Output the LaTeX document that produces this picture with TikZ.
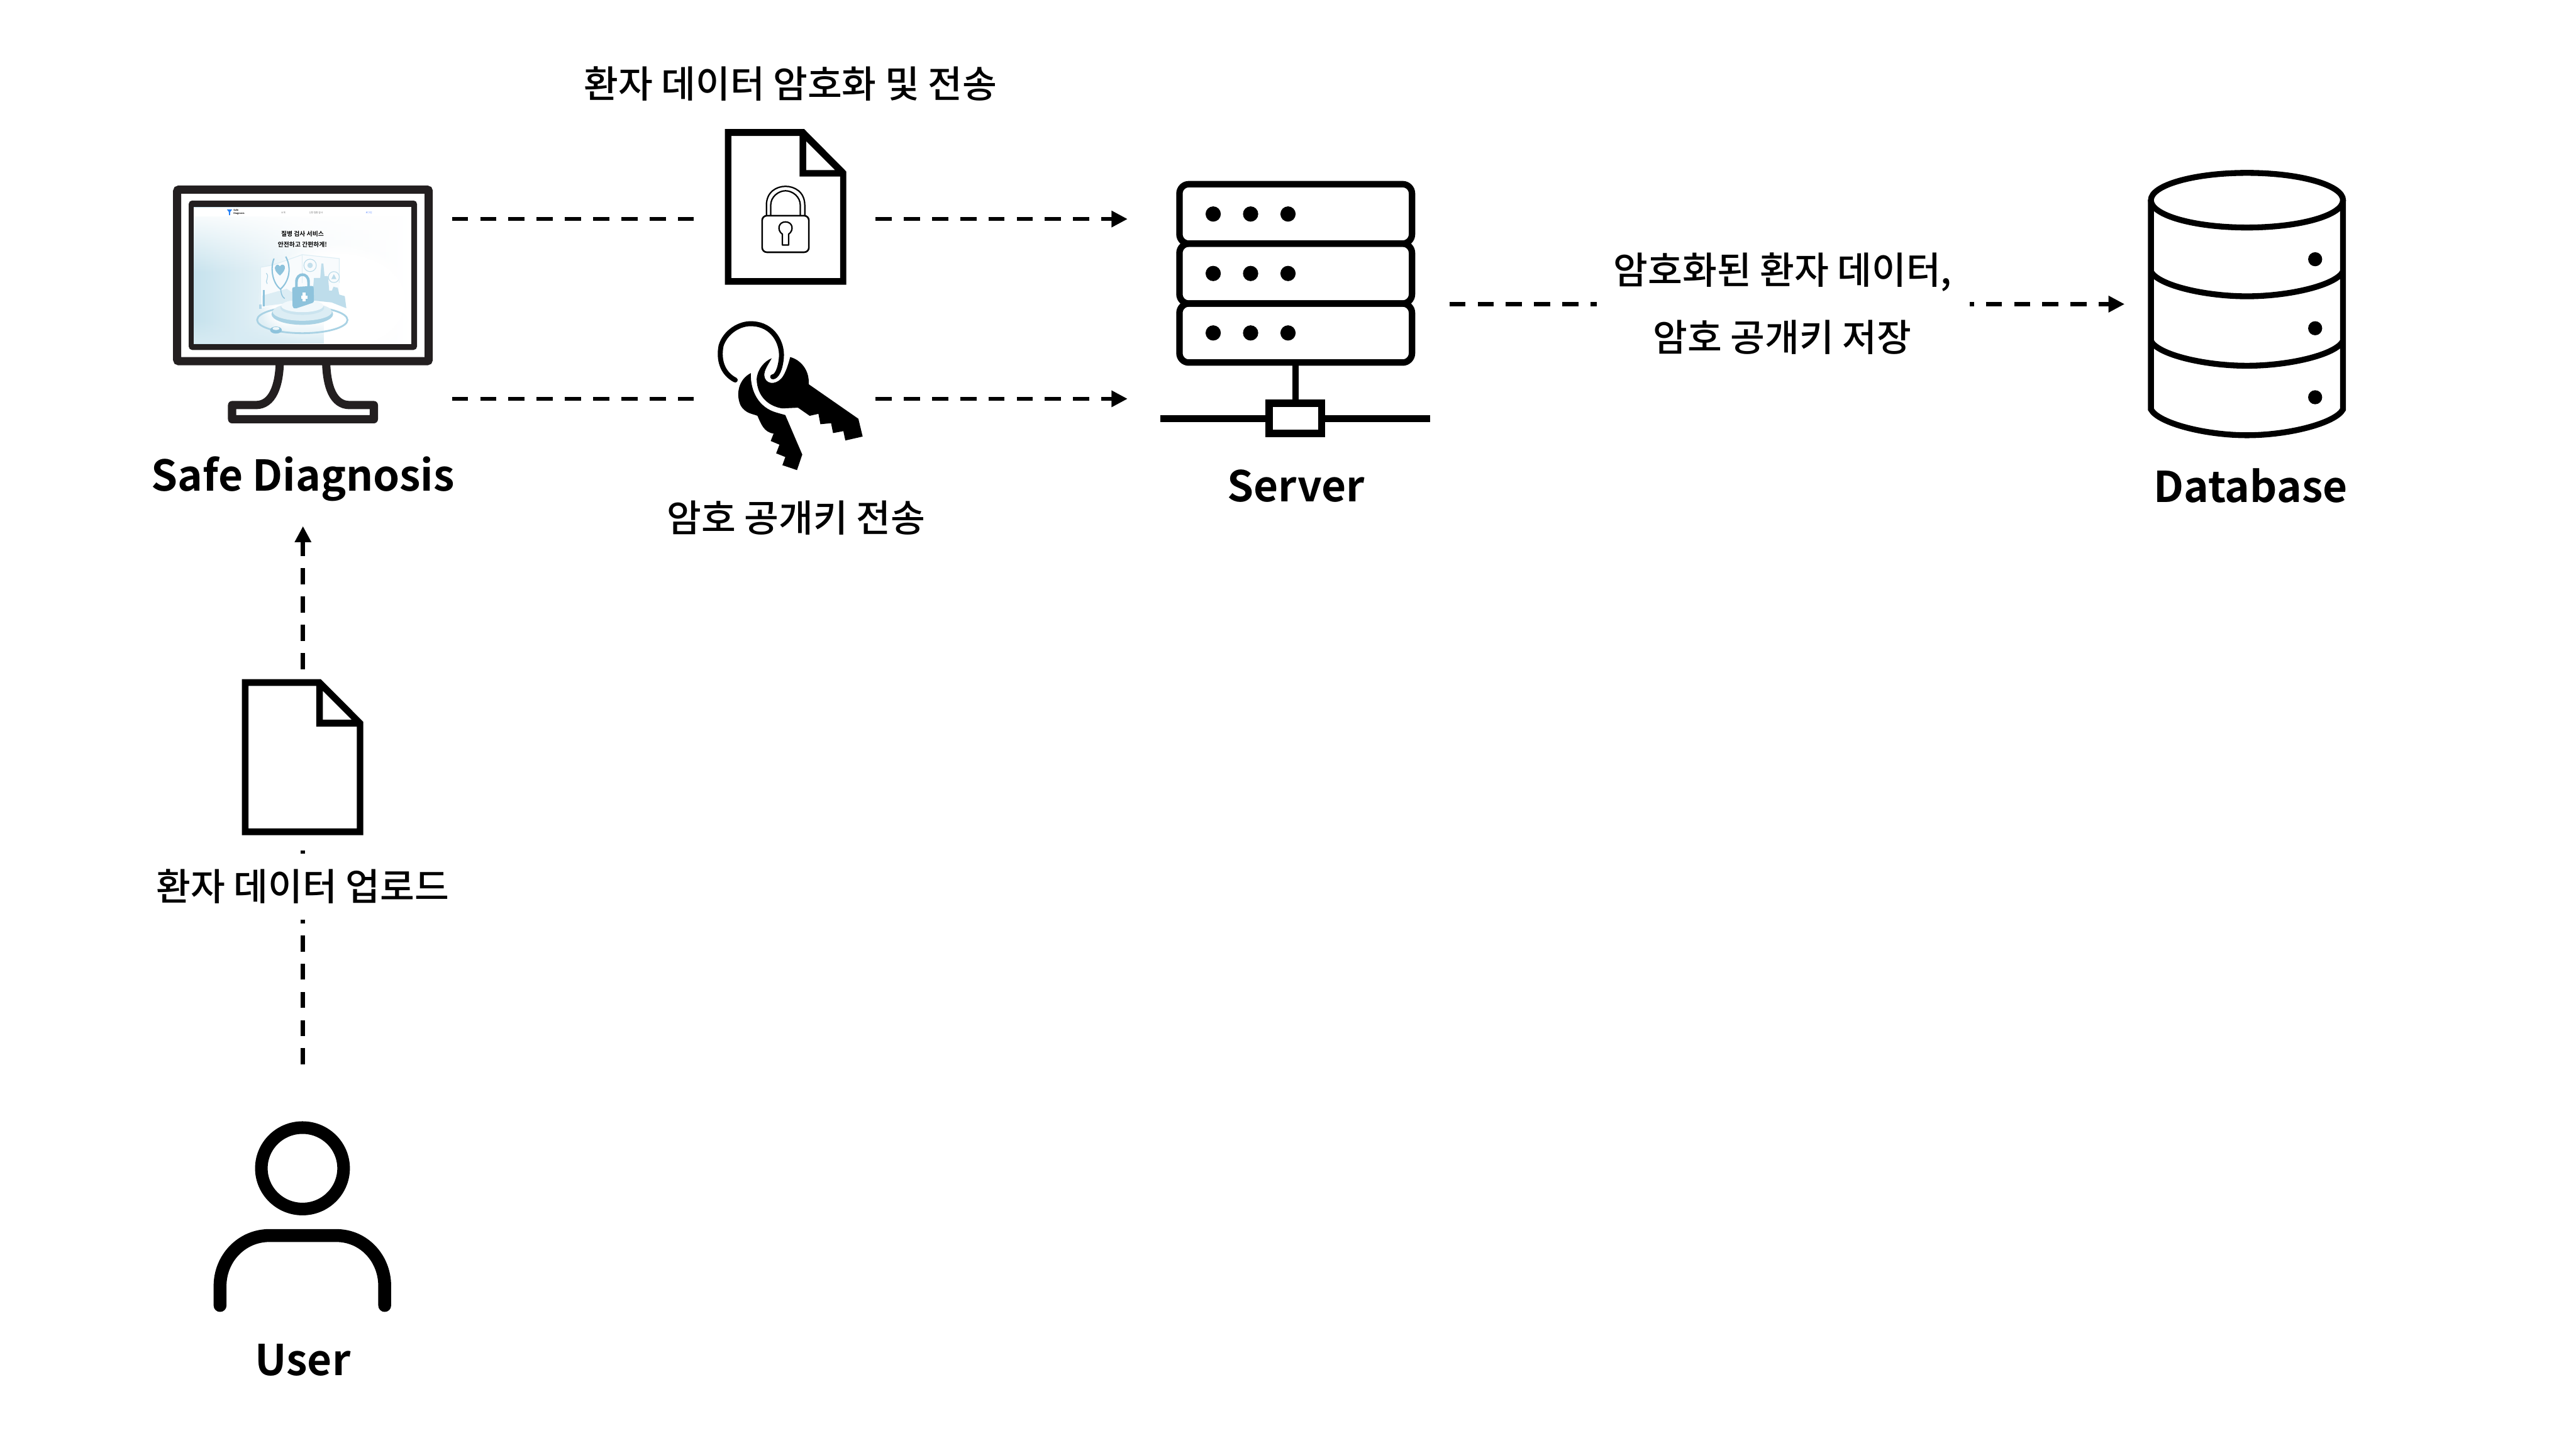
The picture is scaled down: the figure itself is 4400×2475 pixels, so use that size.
\documentclass[tikz,border=0pt]{standalone}
\usepackage{fontspec}
\usetikzlibrary{arrows.meta,fadings}
\setmainfont{Noto Sans CJK KR}[BoldFont={Noto Sans CJK KR Bold}]
\newfontfamily\mediumkr{Noto Sans CJK KR Medium}
\definecolor{moncol}{HTML}{231F20}
\definecolor{skyA}{HTML}{C6E2ED}
\definecolor{skyB}{HTML}{8EC3DC}
\definecolor{skyC}{HTML}{A9D2E4}
\definecolor{skyD}{HTML}{DCEDF4}
\definecolor{loginblue}{HTML}{4F7FFF}
\pgfdeclarelayer{back}
\pgfsetlayers{back,main}
\tikzset{
  flowline/.style={line width=0.07cm,dash pattern=on 0.276cm off 0.206cm},
  flowarrow/.style={flowline,-{Triangle[length=0.275cm,width=0.268cm]}},
  maskbox/.style={fill=white,draw=none,inner sep=0pt,outer sep=0pt},
  iconlabel/.style={anchor=base,inner sep=0pt,font=\fontsize{20.6pt}{24pt}\selectfont\bfseries},
  flowtext/.style={anchor=base,inner sep=0pt,font=\fontsize{18.2pt}{22pt}\selectfont\mediumkr},
  scr/.style={inner sep=0pt,anchor=center},
}
\begin{document}
\begin{tikzpicture}[x=0.01cm,y=-0.01cm]
\useasboundingbox (0,0) rectangle (4400,2475);
% ports
\coordinate (sdTop) at (772,374);
\coordinate (srvTop) at (1926,374);
\coordinate (sdLow) at (772,681);
\coordinate (srvLow) at (1926,681);
\coordinate (srvOut) at (2475.7,519.3);
\coordinate (dbIn) at (3629,519.3);
\coordinate (userUp) at (517.5,1817.7);
\coordinate (sdIn) at (517.5,898.4);
\begin{pgfonlayer}{back}
\fill[white] (0,0) rectangle (4400,2475);
\draw[flowarrow] (sdTop) -- (srvTop);
\draw[flowarrow] (sdLow) -- (srvLow);
\draw[flowarrow] (srvOut) -- (dbIn);
\draw[flowarrow] (userUp) -- (sdIn);
\end{pgfonlayer}
% masks over connectors
\node[maskbox,minimum width=3.05cm,minimum height=2.66cm] (lockedDoc) at (1337.5,353) {};
\node[maskbox,minimum width=3.05cm,minimum height=2.5cm] (keyBunch) at (1337.5,680) {};
\node[maskbox,minimum width=5.8cm,minimum height=2.86cm] (uploadDoc) at (517.5,1302) {};
\node[maskbox,minimum width=5.5cm,minimum height=1.12cm] (uploadBox) at (517.5,1514) {};
\node[maskbox,minimum width=6.36cm,minimum height=0.6cm] (storeBox) at (3046,519.3) {};
% monitor
\fill[moncol,rounded corners=0.06cm] (322.3,342.4) rectangle (712.3,597.6);
\begin{scope}[shift={(320,340)},x=0.0033333cm,y=-0.0033333cm]
\clip (33,42) rectangle (1149,741);
\shade[left color=skyA,right color=white,middle color=skyD!35] (33,42) rectangle (1149,741);
\fill[white,path fading=south] (33,42) rectangle (1149,380);
\fill[white] (33,42) rectangle (1149,90);
\fill[white,path fading=circle with fuzzy edge 20 percent] (780,520) ellipse (420 and 300);
\fill[skyA!70,path fading=north] (33,620) rectangle (700,741);
% panels
\fill[white!80!skyD] (375,350) -- (440,338) -- (590,285) -- (780,305) -- (780,470) -- (590,520) -- (375,560) -- cycle;
\draw[skyD,line width=0.012cm] (375,350) -- (440,338) -- (590,285) -- (780,305) -- (780,430);
\draw[skyD,line width=0.012cm] (375,350) -- (375,560);
\draw[skyD,line width=0.012cm] (590,285) -- (590,430);
\draw[skyC!80,line width=0.012cm] (630,340) circle (32);
\fill[skyC!70] (630,340) circle (14);
\draw[skyC!80,line width=0.012cm] (752,400) circle (28);
\fill[skyB!60] (752,385) -- (765,410) -- (739,410) -- cycle;
\draw[skyC,line width=0.012cm] (405,380) .. controls (425,400) and (395,420) .. (410,435);
% bars
\fill[skyD] (385,495) -- (510,460) -- (540,480) -- (540,530) -- (385,550) -- cycle;
\fill[skyB] (388,465) rectangle (397,550);
\fill[skyB!70] (368,540) rectangle (382,562);
% skyline
\fill[skyC!75] (640,520) -- (650,405) -- (682,405) -- (688,330) -- (698,330) -- (704,395) -- (722,395) -- (728,470) -- (742,470) -- (750,450) -- (772,455) -- (780,490) -- (808,498) -- (816,560) -- (740,530) -- cycle;
% stethoscope
\draw[skyB,line width=0.022cm] (445,305) .. controls (425,350) and (435,430) .. (478,462) .. controls (525,420) and (535,350) .. (505,295);
\draw[skyB,line width=0.015cm] (480,462) .. controls (480,490) and (490,505) .. (500,510);
\fill[skyB] (475,392) .. controls (455,375) and (440,355) .. (455,340) .. controls (465,332) and (472,340) .. (475,345) .. controls (480,335) and (495,332) .. (500,345) .. controls (505,360) and (490,380) .. (475,392) -- cycle;
% ring tube
\draw[skyC,line width=0.03cm] (590,620) ellipse (232 and 68);
% pedestal
\fill[skyC] (590,590) ellipse (158 and 55);
\fill[skyD] (590,578) ellipse (152 and 46);
\fill[skyC!60] (590,558) ellipse (112 and 36);
\fill[white!60!skyD] (590,548) ellipse (108 and 32);
% lock
\draw[skyB,line width=0.045cm] (560,455) -- (560,425) .. controls (560,375) and (622,375) .. (622,425) -- (622,450);
\fill[skyB,rounded corners=0.03cm] (538,452) -- (648,445) -- (650,530) -- (552,563) -- (540,555) -- cycle;
\fill[white] (592,478) rectangle (608,526);
\fill[white] (584,494) rectangle (616,510);
% chest piece
\fill[skyB] (455,672) ellipse (30 and 18);
\fill[white!50!skyD] (455,664) ellipse (18 and 8);
% nav logo
\fill[skyB!40!blue!70!cyan] (203,53) -- (230,53) -- (220,66) -- (219,83) -- (214,83) -- (213,66) -- cycle;
\node[scr,font=\fontsize{1.1pt}{1.5pt}\selectfont\bfseries,align=left] (navLogo) at (265,67) {Safe\\Diagnosis};
\node[scr,font=\fontsize{1.1pt}{1.5pt}\selectfont,text=black!60] (navIntro) at (492,69) {소개};
\node[scr,font=\fontsize{1.1pt}{1.5pt}\selectfont,text=black!60] (navCheck) at (660,69) {신장 질환 검사};
\node[scr,font=\fontsize{1.1pt}{1.5pt}\selectfont,text=loginblue] (navLogin) at (932,69) {로그인};
\node[scr,font=\fontsize{3pt}{4pt}\selectfont\bfseries] (heroA) at (591,177) {질병 검사 서비스};
\node[scr,font=\fontsize{3pt}{4pt}\selectfont\bfseries] (heroB) at (591,234) {안전하고 간편하게!};
\end{scope}
\draw[moncol,line width=0.14cm,rounded corners=0.03cm] (302.6,323.8) rectangle (732.3,616.8);
\draw[moncol,line width=0.14cm,line join=round] (478,617) .. controls (477,660) and (465,691.7) .. (437,691.7) -- (396.4,691.7) -- (396.4,715.9) -- (638.6,715.9) -- (638.6,691.7) -- (597,691.7) .. controls (569,691.7) and (558,660) .. (557,617);
\node[iconlabel] (sdLabel) at (517.5,838) {Safe Diagnosis};
% locked document and keys
\begin{scope}[shift={(1150,180)},x=0.0033333cm,y=-0.0042088cm]
\fill[black,even odd rule] (265,96) -- (672,96) -- (888,268) -- (888,727) -- (265,727) -- cycle
  (298,124) -- (648,124) -- (648,288) -- (856,288) -- (856,700) -- (298,700) -- cycle
  (682,145) -- (830,262) -- (682,262) -- cycle;
\draw[line width=0.028cm,rounded corners=0.08cm] (456,447) rectangle (696,595);
\draw[line width=0.024cm] (478,445) -- (478,405) .. controls (478,350) and (530,328) .. (576,328) .. controls (622,328) and (675,350) .. (675,405) -- (675,445);
\draw[line width=0.024cm] (500,445) -- (500,405) .. controls (500,370) and (540,346) .. (576,346) .. controls (612,346) and (652,370) .. (652,405) -- (652,445);
\draw[line width=0.024cm,line join=round] (560,566) -- (560,522) .. controls (530,505) and (540,472) .. (576,472) .. controls (612,472) and (622,505) .. (592,522) -- (592,566) -- cycle;
% keys
\fill[black] (398,1085) .. controls (335,1110) and (320,1170) .. (345,1215) .. controls (370,1250) and (410,1250) .. (432,1258) .. controls (450,1290) and (465,1325) .. (515,1330) -- (500,1360) -- (545,1375) -- (528,1410) -- (575,1425) -- (560,1458) -- (635,1478) -- (662,1415) -- (575,1255) -- (530,1245) .. controls (440,1225) and (395,1160) .. (398,1085) -- cycle;
\fill[black] (600,1020) .. controls (650,1030) and (700,1070) .. (695,1130) -- (950,1270) -- (972,1342) -- (883,1358) -- (873,1320) -- (820,1328) -- (810,1288) -- (755,1292) -- (745,1250) -- (700,1258) -- (640,1225) -- (560,1228) .. controls (490,1220) and (430,1180) .. (428,1110) .. controls (430,1070) and (470,1035) .. (505,1025) .. controls (480,1060) and (460,1080) .. (470,1105) .. controls (485,1135) and (540,1130) .. (565,1095) .. controls (580,1075) and (590,1050) .. (600,1020) -- cycle;
\draw[white,line width=0.1cm,line cap=round] (530,1085) .. controls (520,1100) and (505,1100) .. (497,1095) .. controls (490,1085) and (505,1065) .. (515,1050);
\draw[line width=0.085cm,line cap=round] (318,1113) .. controls (250,1085) and (232,1030) .. (245,975) .. controls (265,920) and (340,880) .. (410,885) .. controls (510,890) and (560,960) .. (555,1020) .. controls (550,1070) and (530,1100) .. (510,1100);
\end{scope}
% server
\begin{scope}[shift={(1950,280)},x=0.0035075cm,y=-0.003827cm]
\foreach \ya/\yb in {90/355,355/622,622/885}{
  \draw[line width=0.11cm,rounded corners=0.16cm] (184,\ya) rectangle (1315,\yb);
}
\foreach \yy in {223,488,753}{\foreach \xx in {348,530,712}{\fill (\xx,\yy) circle (0.13cm);}}
\draw[line width=0.105cm] (748,885) -- (748,1067);
\draw[line width=0.125cm] (621,1067) rectangle (875,1201);
\draw[line width=0.125cm] (92,1135) -- (621,1135) (875,1135) -- (1403,1135);
\end{scope}
\node[iconlabel] (srvLabel) at (2213.8,857) {Server};
% database
\begin{scope}[shift={(3600,260)},x=0.0033333cm,y=-0.003954cm]
\draw[line width=0.1cm] (715,207) ellipse (493 and 118);
\draw[line width=0.1cm] (222,207) -- (222,1110) .. controls (260,1170) and (500,1222) .. (715,1222) .. controls (930,1222) and (1170,1170) .. (1208,1110) -- (1208,207);
\draw[line width=0.1cm] (222,515) .. controls (260,575) and (500,622) .. (715,622) .. controls (930,622) and (1170,575) .. (1208,515);
\draw[line width=0.1cm] (222,815) .. controls (260,875) and (500,922) .. (715,922) .. controls (930,922) and (1170,875) .. (1208,815);
\foreach \yy in {462,760,1058}{\fill (1065,\yy) circle (0.12cm);}
\end{scope}
\node[iconlabel] (dbLabel) at (3844,858) {Database};
% upload document
\begin{scope}[shift={(240,880)},x=0.0035714cm,y=-0.003827cm]
\fill[black,even odd rule] (485,730) -- (862,730) -- (1065,920) -- (1065,1425) -- (485,1425) -- cycle
  (516,760) -- (840,760) -- (840,942) -- (1034,942) -- (1034,1395) -- (516,1395) -- cycle
  (872,782) -- (1010,911) -- (872,911) -- cycle;
\end{scope}
% user
\begin{scope}[shift={(300,1850)},x=0.0033333cm,y=-0.003508cm]
\draw[line width=0.215cm] (651,413) ellipse (211 and 198);
\draw[line width=0.22cm,line cap=round] (228,1080) -- (228,985) .. controls (228,850) and (340,740) .. (480,740) -- (825,740) .. controls (965,740) and (1073,850) .. (1073,985) -- (1073,1080);
\end{scope}
\node[iconlabel] (userLabel) at (517.3,2349) {User};
% texts
\node[flowtext] (encLabel) at (1350,167) {환자 데이터 암호화 및 전송};
\node[flowtext] (keyLabel) at (1360,908) {암호 공개키 전송};
\node[flowtext] (uploadLabel) at (517,1538) {환자 데이터 업로드};
\node[flowtext] (storeA) at (3045,485) {암호화된 환자 데이터,};
\node[flowtext] (storeB) at (3044,600) {암호 공개키 저장};
\end{tikzpicture}
\end{document}
